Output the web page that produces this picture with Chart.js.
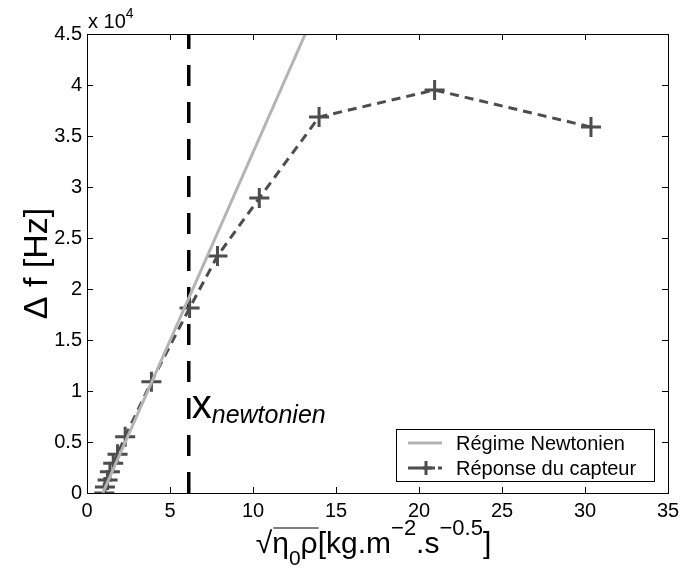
<!DOCTYPE html>
<html>
<head>
<meta charset="utf-8">
<script src="https://cdn.jsdelivr.net/npm/chart.js@4.4.1/dist/chart.umd.min.js"></script>
<style>
  html, body { margin: 0; padding: 0; background: #fff; }
</style>
</head>
<body>
<canvas id="c" width="681" height="570"></canvas>
<script>
// Values (x: sqrt(eta0*rho), y: delta f in Hz)
const newtonX = [0.95, 13.15];
const newtonY = [0, 45000];

const sensorX = [1.04, 1.08, 1.24, 1.38, 1.58, 1.84, 2.30, 3.88, 6.18, 7.86, 10.38, 13.98, 20.94, 30.36];
const sensorY = [0, 600, 1270, 2090, 2910, 3790, 5520, 10910, 18140, 23240, 28920, 36860, 39510, 35880];

const xNewtonien = 6.13;
const limitY = [0, 45000];

const legendLabels = ["Régime Newtonien", "Réponse du capteur"];

const FONT = "Arial, 'Liberation Sans', Helvetica, sans-serif";
const GREY = "#b4b4b4";
const DARK = "#4d4d4d";

const toPoints = (xs, ys) => xs.map((x, i) => ({ x, y: ys[i] }));

// draws a run of text pieces (sub/superscripts) starting at x, returns end x
function drawRich(ctx, pieces, x, y, measureOnly) {
  let cx = x;
  const spans = [];
  pieces.forEach((p) => {
    ctx.font = `${p.italic ? "italic " : ""}${p.size}px ${FONT}`;
    const w = ctx.measureText(p.t).width;
    if (!measureOnly) ctx.fillText(p.t, cx, y + (p.dy || 0));
    spans.push([cx, cx + w]);
    cx += w;
  });
  return { end: cx, spans };
}

const decorations = {
  id: "decorations",
  afterDraw(chart) {
    const { ctx, chartArea: a, scales } = chart;
    const xs = scales.x, ys = scales.y;
    ctx.save();

    // frame + inward ticks (matlab style)
    ctx.strokeStyle = "#000";
    ctx.lineWidth = 1;
    ctx.strokeRect(a.left + 0.5, a.top + 0.5, a.right - a.left, a.bottom - a.top);
    ctx.beginPath();
    xs.ticks.forEach((t) => {
      const px = Math.round(xs.getPixelForValue(t.value)) + 0.5;
      ctx.moveTo(px, a.bottom); ctx.lineTo(px, a.bottom - 6);
      ctx.moveTo(px, a.top); ctx.lineTo(px, a.top + 6);
    });
    ys.ticks.forEach((t) => {
      const py = Math.round(ys.getPixelForValue(t.value)) + 0.5;
      ctx.moveTo(a.left, py); ctx.lineTo(a.left + 6, py);
      ctx.moveTo(a.right, py); ctx.lineTo(a.right - 6, py);
    });
    ctx.stroke();

    ctx.fillStyle = "#000";
    ctx.textBaseline = "alphabetic";
    ctx.textAlign = "left";

    // exponent above the y axis
    drawRich(ctx, [
      { t: "x 10", size: 20 },
      { t: "4", size: 14, dy: -10 },
    ], a.left + 1, a.top - 6);

    // x axis title
    const xt = [
      { t: "\u221A", size: 30 },
      { t: "\u03B7", size: 30 },
      { t: "0", size: 21, dy: 12 },
      { t: "\u03C1", size: 30 },
      { t: "[kg.m", size: 30 },
      { t: "\u22122", size: 22, dy: -18 },
      { t: ".s", size: 30 },
      { t: "\u22120.5", size: 22, dy: -18 },
      { t: "]", size: 30 },
    ];
    const w = drawRich(ctx, xt, 0, 0, true).end;
    const x0 = (a.left + a.right) / 2 - w / 2 - 4;
    const base = a.bottom + 60;
    const r = drawRich(ctx, xt, x0, base);
    ctx.beginPath();
    ctx.lineWidth = 1.2;
    ctx.moveTo(r.spans[1][0] + 1, base - 25);
    ctx.lineTo(r.spans[3][1] + 1, base - 25);
    ctx.stroke();

    // y axis title
    ctx.save();
    ctx.translate(47, (a.top + a.bottom) / 2);
    ctx.rotate(-Math.PI / 2);
    ctx.textAlign = "center";
    ctx.font = `34px ${FONT}`;
    ctx.fillText("\u0394 f [Hz]", 0, 0);
    ctx.restore();

    // x_newtonien label next to the dashed line
    drawRich(ctx, [
      { t: "x", size: 40 },
      { t: "newtonien", size: 25, italic: true, dy: 5 },
    ], xs.getPixelForValue(xNewtonien) + 3, ys.getPixelForValue(7350));

    // legend box
    const ds = chart.data.datasets;
    const bw = 258, bh = 52;
    const bx = a.right - 14 - bw, by = a.bottom - 12 - bh;
    ctx.fillStyle = "#fff";
    ctx.fillRect(bx, by, bw, bh);
    ctx.strokeStyle = "#000";
    ctx.lineWidth = 1;
    ctx.strokeRect(bx + 0.5, by + 0.5, bw, bh);
    [0, 1].forEach((i) => {
      const d = ds[i];
      const ly = by + 14 + i * 25;
      ctx.strokeStyle = d.borderColor;
      ctx.lineWidth = d.borderWidth;
      ctx.setLineDash(d.borderDash || []);
      ctx.beginPath();
      ctx.moveTo(bx + 12, ly);
      ctx.lineTo(bx + 46, ly);
      ctx.stroke();
      ctx.setLineDash([]);
      if (d.pointRadius) {
        const cx = bx + 30, rr = 9;
        ctx.beginPath();
        ctx.moveTo(cx - rr, ly); ctx.lineTo(cx + rr, ly);
        ctx.moveTo(cx, ly - rr + 2); ctx.lineTo(cx, ly + rr - 2);
        ctx.stroke();
      }
      ctx.fillStyle = "#000";
      ctx.font = `20px ${FONT}`;
      ctx.textBaseline = "middle";
      ctx.fillText(legendLabels[i], bx + 60, ly + 1);
    });

    ctx.restore();
  },
};

new Chart(document.getElementById("c"), {
  type: "scatter",
  data: {
    datasets: [
      {
        label: legendLabels[0],
        data: toPoints(newtonX, newtonY),
        showLine: true,
        borderColor: GREY,
        borderWidth: 3,
        pointRadius: 0,
      },
      {
        label: legendLabels[1],
        data: toPoints(sensorX, sensorY),
        showLine: true,
        borderColor: DARK,
        borderWidth: 3,
        borderDash: [9, 6],
        pointStyle: "cross",
        pointRadius: 10,
        pointBorderWidth: 3,
        pointBorderColor: DARK,
        pointBackgroundColor: DARK,
      },
      {
        label: "x_newtonien",
        data: toPoints([xNewtonien, xNewtonien], limitY),
        showLine: true,
        borderColor: "#000",
        borderWidth: 3.5,
        borderDash: [21, 16],
        pointRadius: 0,
        order: 3,
      },
    ],
  },
  options: {
    responsive: false,
    devicePixelRatio: 1,
    animation: false,
    layout: { padding: { top: 34, right: 12, left: 0, bottom: 0 } },
    plugins: {
      legend: { display: false },
      tooltip: { enabled: false },
    },
    scales: {
      x: {
        type: "linear",
        min: 0,
        max: 35,
        grid: { display: false, drawTicks: false },
        border: { display: false },
        ticks: {
          stepSize: 5,
          padding: 6,
          color: "#000",
          font: { family: FONT, size: 20 },
        },
        afterFit: (s) => { s.height = 77; s.paddingLeft = 0; s.paddingRight = 0; },
      },
      y: {
        min: 0,
        max: 45000,
        grid: { display: false, drawTicks: false },
        border: { display: false },
        ticks: {
          stepSize: 5000,
          padding: 5,
          color: "#000",
          font: { family: FONT, size: 20 },
          callback: (v) => String(v / 10000),
        },
        afterFit: (s) => { s.width = 87; s.paddingTop = 0; s.paddingBottom = 0; },
      },
    },
  },
  plugins: [decorations],
});
</script>
</body>
</html>
